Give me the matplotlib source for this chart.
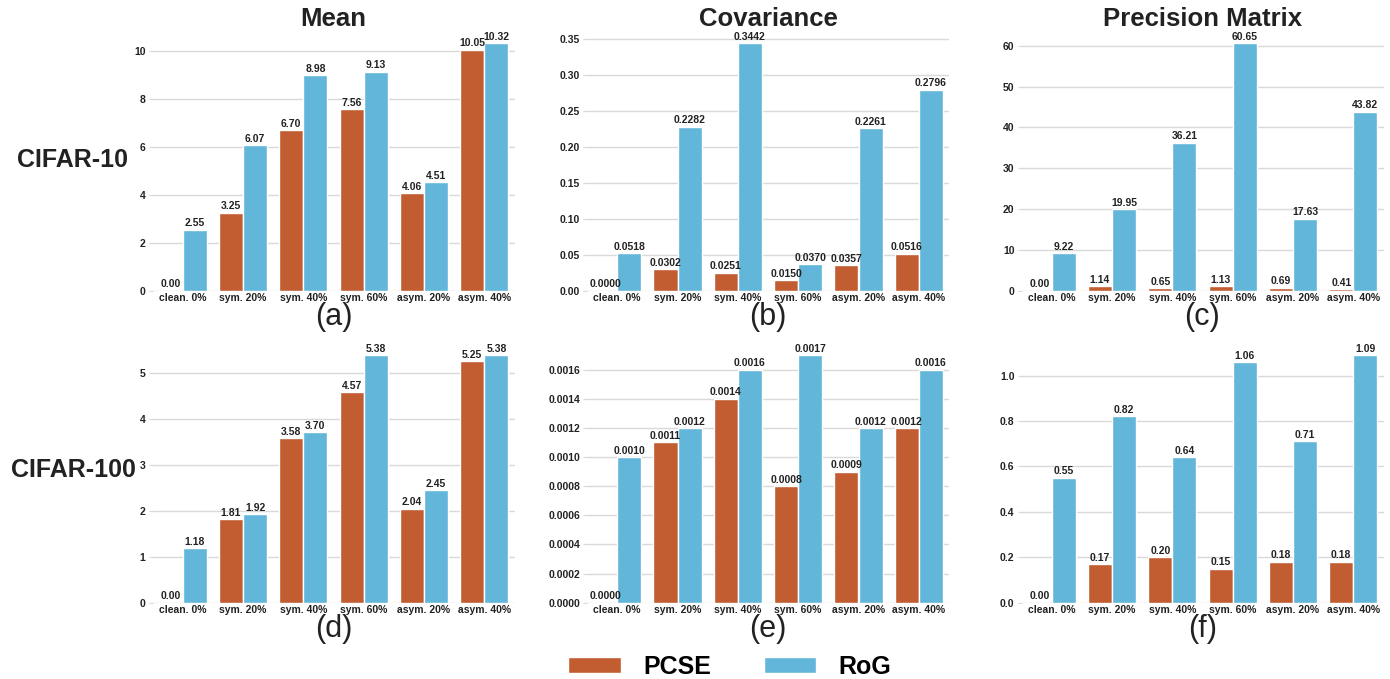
import numpy as np
import matplotlib
matplotlib.use('Agg')
from matplotlib import pyplot as plt
from matplotlib.ticker import MultipleLocator, FormatStrFormatter

plt.rcParams['font.family'] = ['Liberation Sans', 'DejaVu Sans']

categories = ['clean. 0%', 'sym. 20%', 'sym. 40%', 'sym. 60%', 'asym. 20%', 'asym. 40%']
methods = ['PCSE', 'RoG']
col_titles = ['Mean', 'Covariance', 'Precision Matrix']
row_labels = ['CIFAR-10', 'CIFAR-100']
panel_tags = ['(a)', '(b)', '(c)', '(d)', '(e)', '(f)']

# CIFAR-10
mean10_pcse = [0.00, 3.25, 6.70, 7.56, 4.06, 10.05]
mean10_rog = [2.55, 6.07, 8.98, 9.13, 4.51, 10.32]
cov10_pcse = [0.0000, 0.0302, 0.0251, 0.0150, 0.0357, 0.0516]
cov10_rog = [0.0518, 0.2282, 0.3442, 0.0370, 0.2261, 0.2796]
prec10_pcse = [0.00, 1.14, 0.65, 1.13, 0.69, 0.41]
prec10_rog = [9.22, 19.95, 36.21, 60.65, 17.63, 43.82]

# CIFAR-100
mean100_pcse = [0.00, 1.81, 3.58, 4.57, 2.04, 5.25]
mean100_rog = [1.18, 1.92, 3.70, 5.38, 2.45, 5.38]
cov100_pcse = [0.0000, 0.0011, 0.0014, 0.0008, 0.0009, 0.0012]
cov100_rog = [0.0010, 0.0012, 0.0016, 0.0017, 0.0012, 0.0016]
prec100_pcse = [0.00, 0.17, 0.20, 0.15, 0.18, 0.18]
prec100_rog = [0.55, 0.82, 0.64, 1.06, 0.71, 1.09]

panels = [
    (mean10_pcse, mean10_rog, 2, '%d', '%.2f'),
    (cov10_pcse, cov10_rog, 0.05, '%.2f', '%.4f'),
    (prec10_pcse, prec10_rog, 10, '%d', '%.2f'),
    (mean100_pcse, mean100_rog, 1, '%d', '%.2f'),
    (cov100_pcse, cov100_rog, 0.0002, '%.4f', '%.4f'),
    (prec100_pcse, prec100_rog, 0.2, '%.1f', '%.2f'),
]

c_pcse = '#c15d31'
c_rog = '#62b6da'

W, H = 1390, 679
fig = plt.figure(figsize=(W / 100, H / 100), dpi=100)

lefts = [152.5, 587, 1021.5]
bottoms = [290.7, 602.7]
aw, ah = 362, 260

x = np.arange(len(categories))
for i, (pcse, rog, step, yfmt, lfmt) in enumerate(panels):
    r, c = divmod(i, 3)
    ax = fig.add_axes([lefts[c] / W, (H - bottoms[r]) / H, aw / W, ah / H])
    b1 = ax.bar(x - 0.2, pcse, 0.4, color=c_pcse, edgecolor='white', linewidth=1, label=methods[0], zorder=2)
    b2 = ax.bar(x + 0.2, rog, 0.4, color=c_rog, edgecolor='white', linewidth=1, label=methods[1], zorder=2)
    for bars in (b1, b2):
        ax.bar_label(bars, fmt=lfmt, padding=1, fontsize=7.5, fontweight='bold', color='#222222')
    ax.set_xlim(-0.5, 5.5)
    ax.set_ylim(0, max(max(pcse), max(rog)) * 1.05)
    ax.yaxis.set_major_locator(MultipleLocator(step))
    ax.yaxis.set_major_formatter(FormatStrFormatter(yfmt))
    ax.set_xticks(x)
    ax.set_xticklabels(categories)
    ax.grid(axis='y', color='#d9d9d9', linewidth=1, zorder=0)
    ax.set_axisbelow(True)
    for s in ax.spines.values():
        s.set_visible(False)
    ax.tick_params(axis='x', length=0, pad=2, labelsize=7.5, labelcolor='#222222')
    ax.tick_params(axis='y', length=3, color='#d9d9d9', pad=2, labelsize=7.5, labelcolor='#222222')
    for t in ax.get_xticklabels() + ax.get_yticklabels():
        t.set_fontweight('bold')
    if r == 0:
        ax.set_title(col_titles[c], fontsize=18.5, fontweight='bold', pad=3, color='#222222')
    ax.text(0.5, -0.1, panel_tags[i], transform=ax.transAxes, ha='center', va='center',
            fontsize=22, color='#222222')
    if i == 0:
        handles = [b1, b2]

fig.text(73 / W, 1 - 160 / H, row_labels[0], ha='center', va='center', fontsize=18, fontweight='bold', color='#222222')
fig.text(73 / W, 1 - 470 / H, row_labels[1], ha='center', va='center', fontsize=18, fontweight='bold', color='#222222')

fig.legend(handles, methods, loc='center', bbox_to_anchor=(730 / W, 12 / H), ncol=2, frameon=False,
           prop={'size': 18, 'weight': 'bold'}, handlelength=2.1, handleheight=0.64,
           handletextpad=0.9, columnspacing=2.1, borderpad=0)

fig.savefig('out.png', dpi=100)
